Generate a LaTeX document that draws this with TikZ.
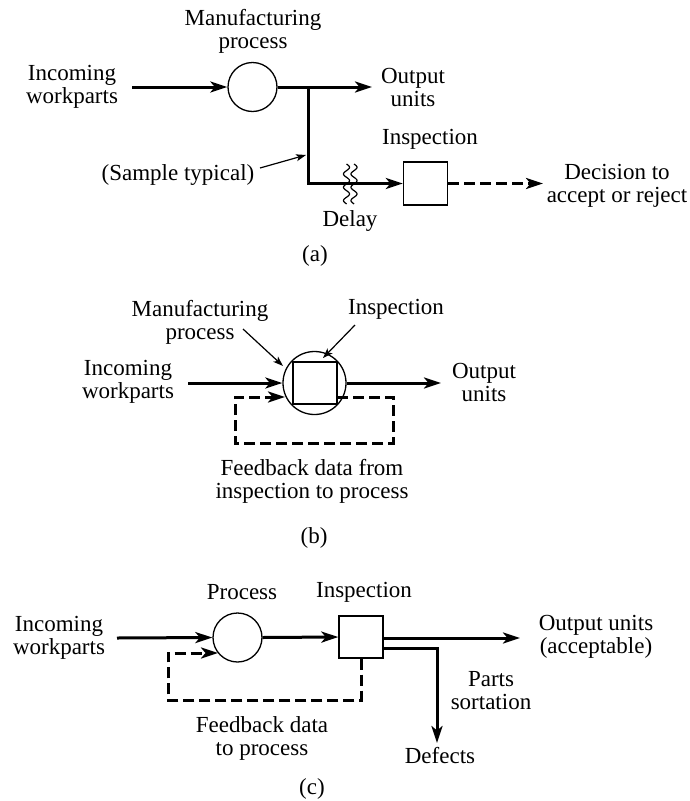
\documentclass[tikz,border=0pt]{standalone}
\usepackage{fontspec}
\setmainfont{Liberation Serif}
\usetikzlibrary{arrows.meta}
\begin{document}
\begin{tikzpicture}[x=1pt,y=-1pt,
  lbl/.style={align=center, font=\fontsize{23}{23}\selectfont, inner sep=0pt},
  tip/.style={-{Stealth[length=17pt,width=11pt,inset=4.5pt]}},
  flow/.style={line width=3pt, tip},
  dashflow/.style={line width=3pt, dash pattern=on 11pt off 5pt, tip},
  ptr/.style={line width=1.2pt, -{Stealth[length=10pt,width=7pt,inset=2.5pt]}},
  proc/.style={circle, draw, line width=1.3pt, inner sep=0pt, minimum size=49pt},
  insp/.style={rectangle, draw, line width=1.3pt, inner sep=0pt, minimum width=44pt, minimum height=43pt},
  wave/.style={line width=1.2pt},
]
\useasboundingbox (0,0) rectangle (689,801);

% ---------------- (a) ----------------
\node[proc] (pa) at (252.5,87) {};
\node[lbl] (ma) at (253,31) {Manufacturing\\process};
\node[lbl] (ina) at (72,87) {Incoming\\workparts};
\coordinate (ina-e) at (132,87);
\draw[flow] (ina-e) -- (pa.west);
\node[lbl] (oa) at (413,87) {Output\\units};
\coordinate (oa-w) at (372,87);
\draw[flow] (pa.east) -- (oa-w);
\coordinate (ja) at (308,87);
\node[insp] (ia) at (425.5,183.5) {};
\node[lbl] (ila) at (430,139) {Inspection};
\draw[flow] (ja) |- (ia.west);
\coordinate (deca) at (543,183.5);
\draw[dashflow] (ia.east) -- (deca);
\node[lbl] (dec) at (617,186) {Decision to\\accept or reject};
\node[lbl] (samp) at (178,175) {(Sample typical)};
\coordinate (sa1) at (260,168);
\coordinate (sa2) at (306,155);
\draw[ptr] (sa1) -- (sa2);
\draw[wave] plot[domain=164:204, samples=80, smooth] ({346.5+3*sin((\x-164)*360/13.3)}, \x);
\draw[wave] plot[domain=164:204, samples=80, smooth] ({354+3*sin((\x-164)*360/13.3)}, \x);
\node[lbl] (delay) at (350,221) {Delay};
\node[lbl] (capa) at (315,256) {(a)};

% ---------------- (b) ----------------
\node[circle, draw, line width=1.3pt, inner sep=0pt, minimum size=63pt] (pb) at (314.5,383) {};
\node[insp, minimum height=42pt] (ib) at (315,383) {};
\node[lbl] (mb) at (200,322) {Manufacturing\\process};
\node[lbl] (ilb) at (396,309) {Inspection};
\coordinate (mp1) at (243,329);
\coordinate (mp2) at (283,366);
\draw[ptr] (mp1) -- (mp2);
\coordinate (ip1) at (355,325);
\coordinate (ip2) at (323,358);
\draw[ptr] (ip1) -- (ip2);
\node[lbl] (inb) at (128,382) {Incoming\\workparts};
\coordinate (inb-e) at (188,383);
\draw[flow] (inb-e) -- (pb.west);
\coordinate (ob-w) at (441,383);
\draw[flow] (pb.east) -- (ob-w);
\node[lbl] (ob) at (484,382) {Output\\units};
\coordinate (fb0) at (337,397);
\coordinate (fb1) at (393,397);
\coordinate (fb2) at (393,443);
\coordinate (fb3) at (235,443);
\coordinate (fb4) at (235,397);
\coordinate (fb5) at (285,397);
\draw[dashflow] (fb0) -- (fb1) -- (fb2) -- (fb3) -- (fb4) -- (fb5);
\node[lbl] (fbt) at (312,481) {Feedback data from\\inspection to process};
\node[lbl] (capb) at (314,538) {(b)};

% ---------------- (c) ----------------
\node[proc] (pc) at (237.5,637.5) {};
\node[insp, minimum height=42pt] (ic) at (361,637) {};
\node[lbl] (plc) at (242,592) {Process};
\node[lbl] (ilc) at (364,592) {Inspection};
\node[lbl] (inc) at (59,638) {Incoming\\workparts};
\coordinate (inc-e) at (117,638);
\draw[flow] (inc-e) -- (pc.west);
\draw[flow] (pc.east) -- (ic.west);
\coordinate (oc1) at (383,638);
\coordinate (oc2) at (520,638);
\draw[flow] (oc1) -- (oc2);
\coordinate (dc1) at (383,648);
\coordinate (dc2) at (437,743);
\draw[flow] (dc1) -| (dc2);
\node[lbl] (oc) at (596,637) {Output units\\(acceptable)};
\node[lbl] (ps) at (491,691) {Parts\\sortation};
\node[lbl] (def) at (440,756) {Defects};
\coordinate (fc1) at (361,700);
\coordinate (fc2) at (168,700);
\coordinate (fc3) at (168,653);
\coordinate (fc4) at (218,653);
\draw[dashflow] (ic.south) -- (fc1) -- (fc2) -- (fc3) -- (fc4);
\node[lbl] (fct) at (262,738) {Feedback data\\to process};
\node[lbl] (capc) at (312,789) {(c)};
\end{tikzpicture}
\end{document}
